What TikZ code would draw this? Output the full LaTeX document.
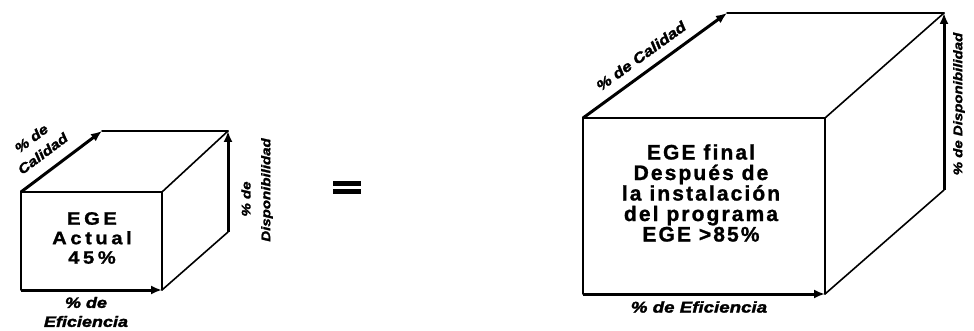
\documentclass[tikz,border=0pt]{standalone}
\usepackage{fontspec}
\setmainfont{Liberation Sans}
\newfontfamily\egebig[LetterSpace=10,FakeBold=1.2]{Liberation Sans}
\newfontfamily\egesmall[LetterSpace=20,FakeStretch=1.12,FakeBold=1.2]{Liberation Sans}
\newfontfamily\axfont[FakeStretch=1.2,FakeBold=2]{Liberation Sans}
\usetikzlibrary{arrows.meta}
\begin{document}
\begin{tikzpicture}[x=1pt,y=-1pt,
  edge/.style={line width=1.6pt, line cap=round},
  axis/.style={line width=3pt, -{Latex[length=11pt,width=9pt]}},
  lbl/.style={align=center, inner sep=0pt},
]
\useasboundingbox (0,0) rectangle (974,331);

% ---------- small cube ----------
\coordinate (sA) at (21,192);
\coordinate (sB) at (162,192);
\coordinate (sC) at (162,290);
\coordinate (sD) at (21,290);
\coordinate (sE) at (102,131);
\coordinate (sF) at (228,131);
\coordinate (sG) at (228,232);

\draw[edge] (sD) -- (sA) -- (sB) -- (sC);
\draw[edge] (sE) -- (sF);
\draw[edge] (sB) -- (sF);
\draw[edge] (sC) -- (sG);
\draw[axis] (sD) -- (sC);
\draw[axis] (sA) -- (sE);
\draw[axis] (sG) -- (sF);

\node[lbl, font={\egesmall\bfseries\fontsize{18}{19.5}\selectfont}] (stxt) at (92,238) {EGE\\Actual\\45\%};
\node[lbl, rotate=37, font={\axfont\bfseries\itshape\fontsize{13.5}{19}\selectfont}] (scal) at (37,146) {\% de\\Calidad};
\node[lbl, rotate=90, font={\axfont\bfseries\itshape\fontsize{12.5}{15}\selectfont}] (sdis1) at (246,199) {\% de};
\node[lbl, rotate=90, font={\axfont\bfseries\itshape\fontsize{12.5}{15}\selectfont}] (sdis2) at (267,190) {Disponibilidad};
\node[lbl, font={\axfont\bfseries\itshape\fontsize{15}{19}\selectfont}] (sefi) at (86,312) {\% de\\Eficiencia};

% ---------- equal sign ----------
\fill (333,181) rectangle (361,186);
\fill (333,189) rectangle (361,194);

% ---------- large cube ----------
\coordinate (lA) at (583,118);
\coordinate (lB) at (825,118);
\coordinate (lC) at (825,294);
\coordinate (lD) at (583,294);
\coordinate (lE) at (727,13);
\coordinate (lF) at (944,13);
\coordinate (lG) at (944,190);

\draw[edge] (lD) -- (lA) -- (lB) -- (lC);
\draw[edge] (lE) -- (lF);
\draw[edge] (lB) -- (lF);
\draw[edge] (lC) -- (lG);
\draw[axis] (lD) -- (lC);
\draw[axis] (lA) -- (lE);
\draw[axis] (lG) -- (lF);

\node[lbl, font={\egebig\bfseries\fontsize{21}{20.5}\selectfont}] (ltxt) at (701,193) {EGE final\\Después de\\la instalación\\del programa\\EGE >85\%};
\node[lbl, rotate=36, font={\axfont\bfseries\itshape\fontsize{14.3}{17}\selectfont}] (lcal) at (641,56) {\% de Calidad};
\node[lbl, rotate=90, font={\axfont\bfseries\itshape\fontsize{12.5}{15}\selectfont}] (ldis) at (959,104) {\% de Disponibilidad};
\node[lbl, font={\axfont\bfseries\itshape\fontsize{15.6}{19}\selectfont}] (lefi) at (699,307) {\% de Eficiencia};
\end{tikzpicture}
\end{document}
